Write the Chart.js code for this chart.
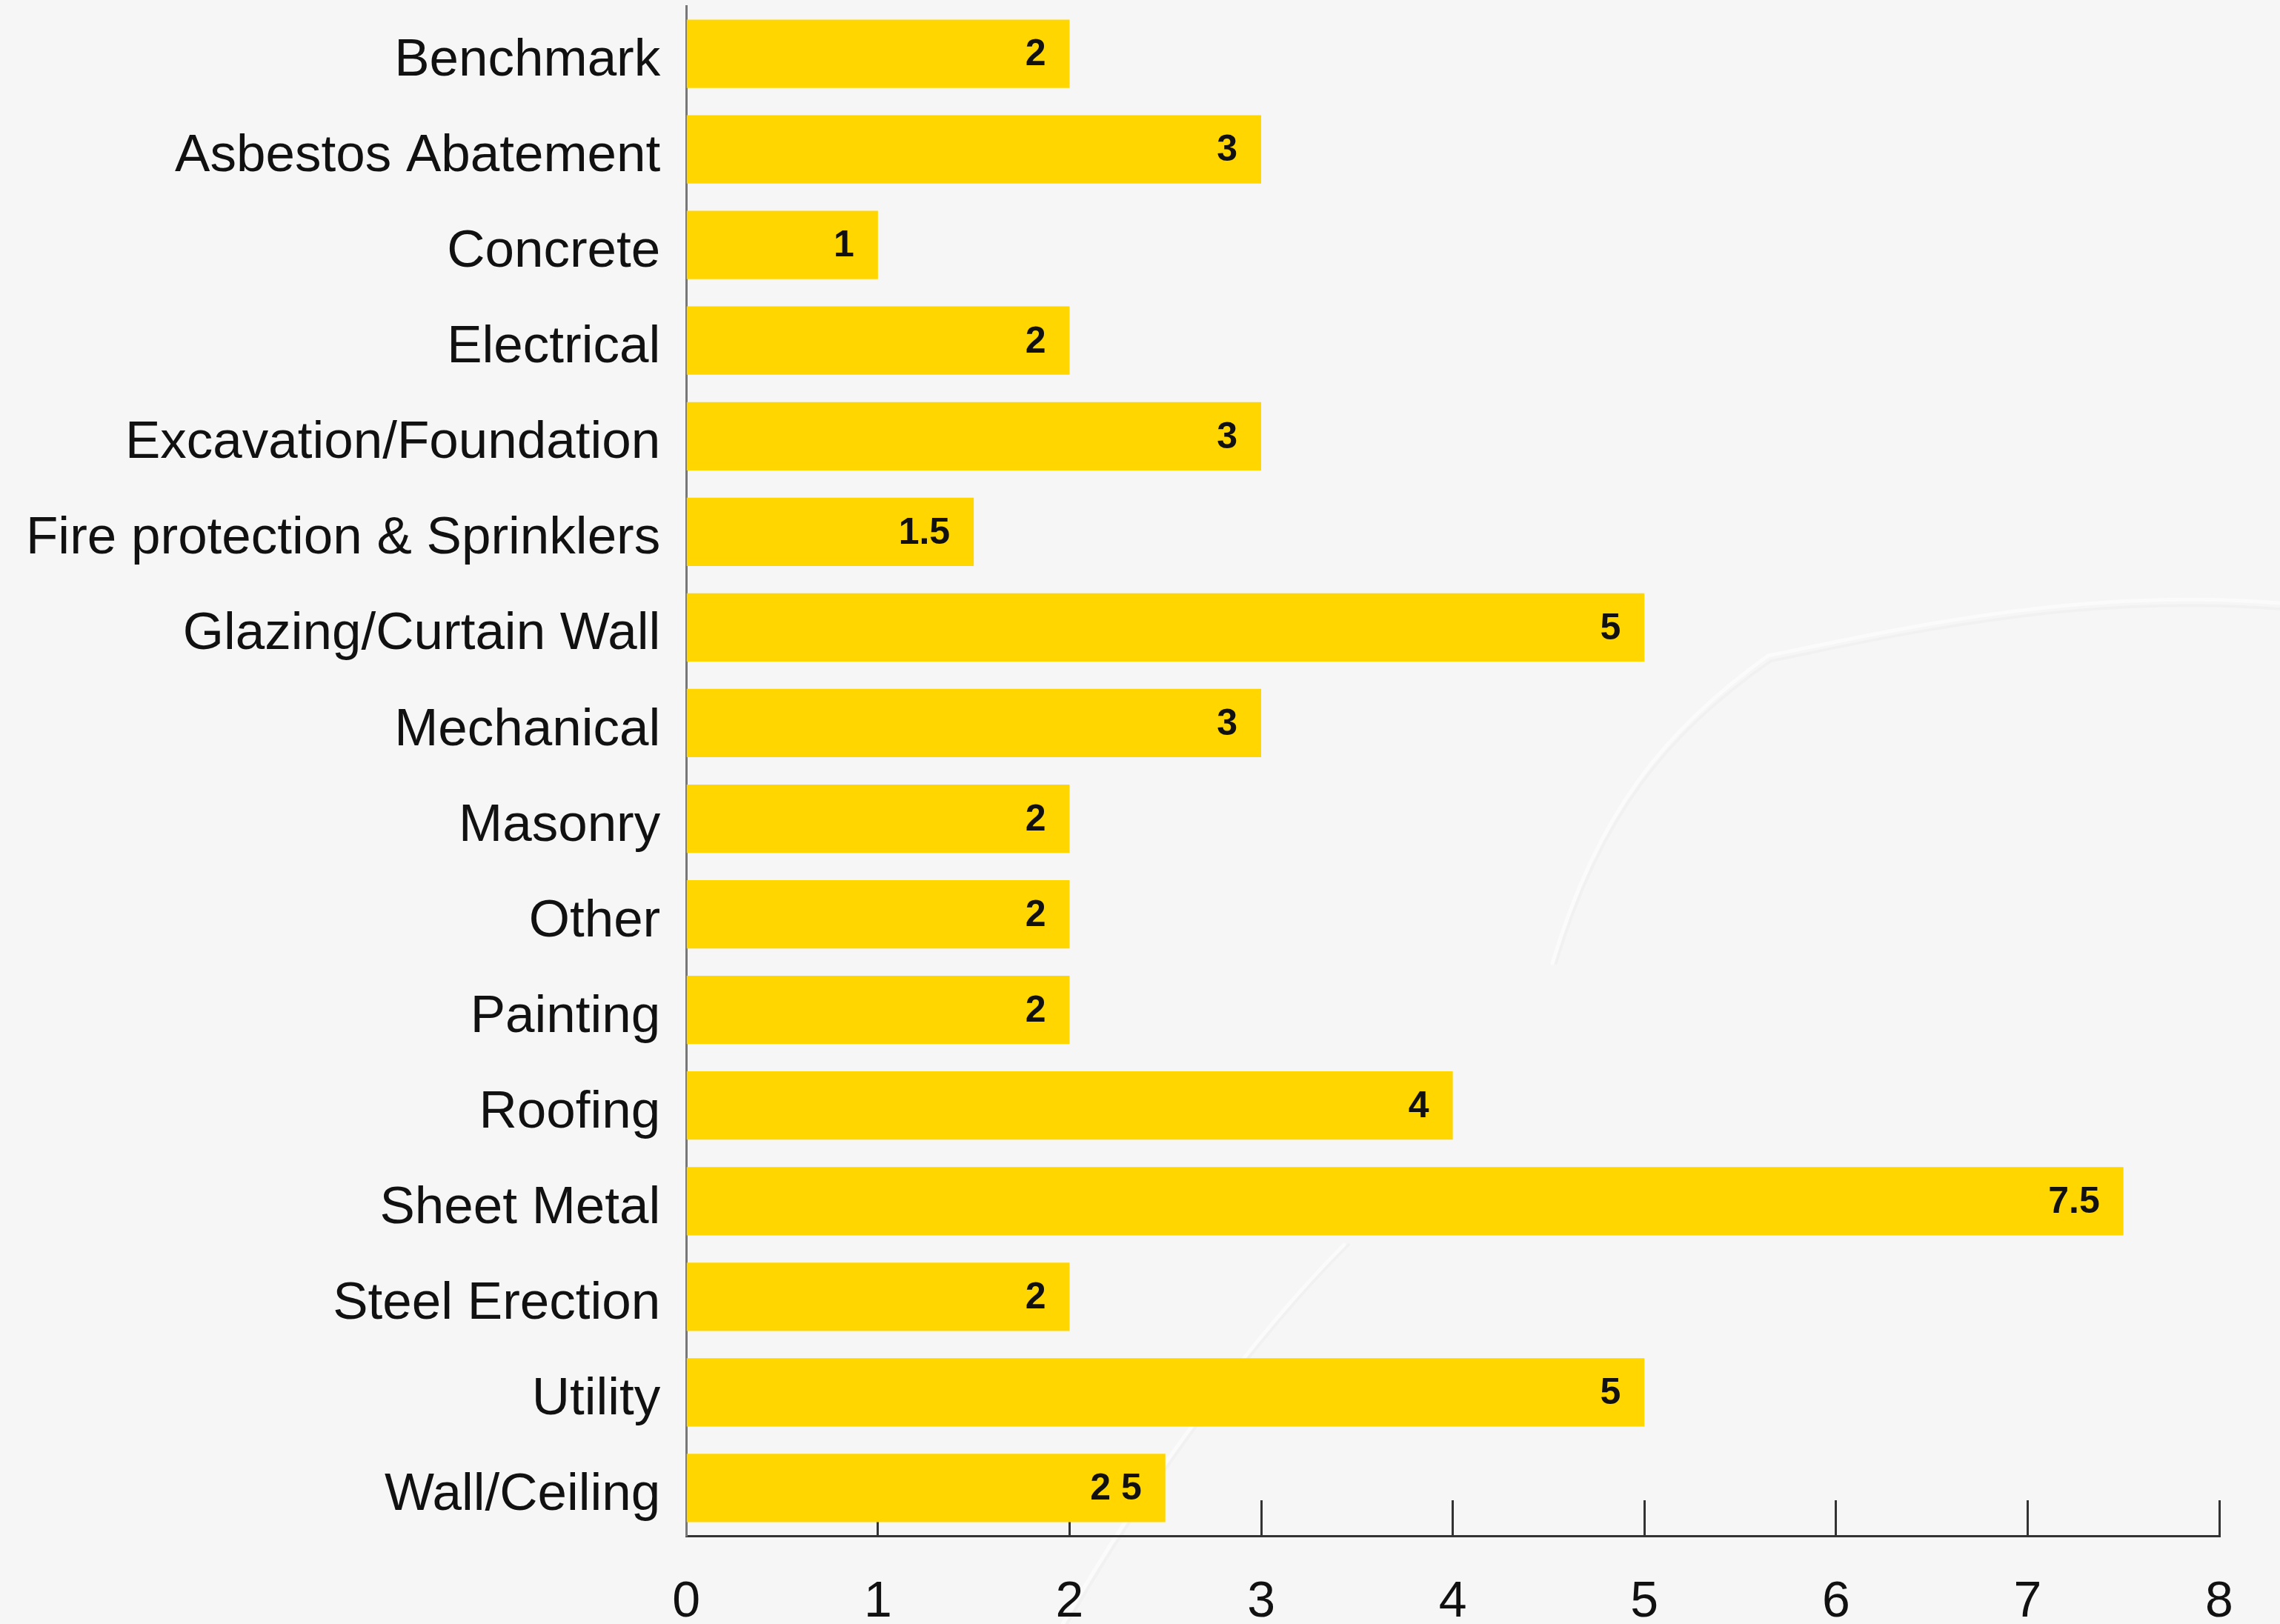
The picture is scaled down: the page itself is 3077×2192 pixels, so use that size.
<!DOCTYPE html>
<html>
<head>
    <title>Gráfico de barras</title>
    <script src="https://cdn.jsdelivr.net/npm/chart.js"></script>
    <style>
        body { margin: 0; background: #f6f6f6; }
        #contenedor { width: 3077px; height: 2192px; }
    </style>
</head>
<body>
    <div id="contenedor"><canvas id="miGrafico"></canvas></div>

    <script>
        // Datos
        const categorias = ['Benchmark', 'Asbestos Abatement', 'Concrete', 'Electrical', 'Excavation/Foundation',
            'Fire protection & Sprinklers', 'Glazing/Curtain Wall', 'Mechanical', 'Masonry', 'Other', 'Painting',
            'Roofing', 'Sheet Metal', 'Steel Erection', 'Utility', 'Wall/Ceiling'];
        const valores = [2, 3, 1, 2, 3, 1.5, 5, 3, 2, 2, 2, 4, 7.5, 2, 5, 2.5];
        const etiquetasValor = ['2', '3', '1', '2', '3', '1.5', '5', '3', '2', '2', '2', '4', '7.5', '2', '5', '2 5'];
        const ticksX = [0, 1, 2, 3, 4, 5, 6, 7, 8];

        // fondo tipo papel con pliegues suaves
        const fondo = {
            id: 'fondo',
            beforeDraw(chart) {
                const ctx = chart.ctx;
                ctx.save();
                ctx.fillStyle = '#f6f6f6';
                ctx.fillRect(0, 0, chart.width, chart.height);
                ctx.lineCap = 'round';
                // sombra del pliegue
                ctx.strokeStyle = 'rgba(0,0,0,0.02)';
                ctx.lineWidth = 4;
                ctx.beginPath();
                ctx.moveTo(3077, 822);
                ctx.bezierCurveTo(2800, 800, 2550, 860, 2390, 892);
                ctx.bezierCurveTo(2250, 990, 2160, 1100, 2100, 1300);
                ctx.moveTo(1440, 2192);
                ctx.bezierCurveTo(1550, 2000, 1700, 1800, 1820, 1680);
                ctx.stroke();
                // brillo del pliegue
                ctx.strokeStyle = 'rgba(255,255,255,0.55)';
                ctx.lineWidth = 5;
                ctx.beginPath();
                ctx.moveTo(3077, 814);
                ctx.bezierCurveTo(2800, 792, 2550, 852, 2386, 885);
                ctx.bezierCurveTo(2246, 986, 2156, 1096, 2095, 1300);
                ctx.moveTo(1434, 2192);
                ctx.bezierCurveTo(1544, 2000, 1694, 1800, 1814, 1680);
                ctx.stroke();
                ctx.restore();
            }
        };

        // valores dentro de cada barra
        const etiquetas = {
            id: 'etiquetas',
            afterDatasetsDraw(chart) {
                const ctx = chart.ctx;
                const meta = chart.getDatasetMeta(0);
                ctx.save();
                ctx.font = 'bold 50px "Liberation Sans"';
                ctx.fillStyle = '#111';
                ctx.textAlign = 'right';
                ctx.textBaseline = 'middle';
                meta.data.forEach((barra, i) => {
                    ctx.fillText(etiquetasValor[i], barra.x - 32, barra.y + 2);
                });
                ctx.restore();
            }
        };

        const datos = {
            labels: categorias,
            datasets: [{
                data: valores,
                backgroundColor: '#FFD600',
                borderWidth: 0,
                barPercentage: 0.715,
                categoryPercentage: 1
            }]
        };

        const configuracion = {
            type: 'bar',
            data: datos,
            options: {
                indexAxis: 'y',
                responsive: true,
                maintainAspectRatio: false,
                animation: false,
                layout: { padding: { top: 8, right: 0, bottom: 0, left: 0 } },
                plugins: {
                    legend: { display: false },
                    tooltip: { enabled: false }
                },
                scales: {
                    x: {
                        min: 0,
                        max: 8,
                        afterBuildTicks: escala => { escala.ticks = ticksX.map(v => ({ value: v })); },
                        afterFit: escala => {
                            escala.height = 119;
                            escala.paddingLeft = 0;
                            escala.paddingRight = 82;
                        },
                        grid: { drawOnChartArea: false, tickLength: -48, tickWidth: 3, tickColor: '#333' },
                        border: { color: '#333', width: 3 },
                        ticks: {
                            color: '#111',
                            padding: 104,
                            font: { family: 'Liberation Sans', size: 68, lineHeight: 1 }
                        }
                    },
                    y: {
                        afterFit: escala => { escala.paddingTop = 0; escala.paddingBottom = 0; },
                        grid: { drawOnChartArea: false, drawTicks: false },
                        border: { color: '#777', width: 3 },
                        ticks: {
                            color: '#111',
                            padding: 35,
                            labelOffset: 10,
                            font: { family: 'Liberation Sans', size: 71 }
                        }
                    }
                }
            },
            plugins: [fondo, etiquetas]
        };

        var ctx = document.getElementById('miGrafico').getContext('2d');
        var miGrafico = new Chart(ctx, configuracion);
    </script>
</body>
</html>
